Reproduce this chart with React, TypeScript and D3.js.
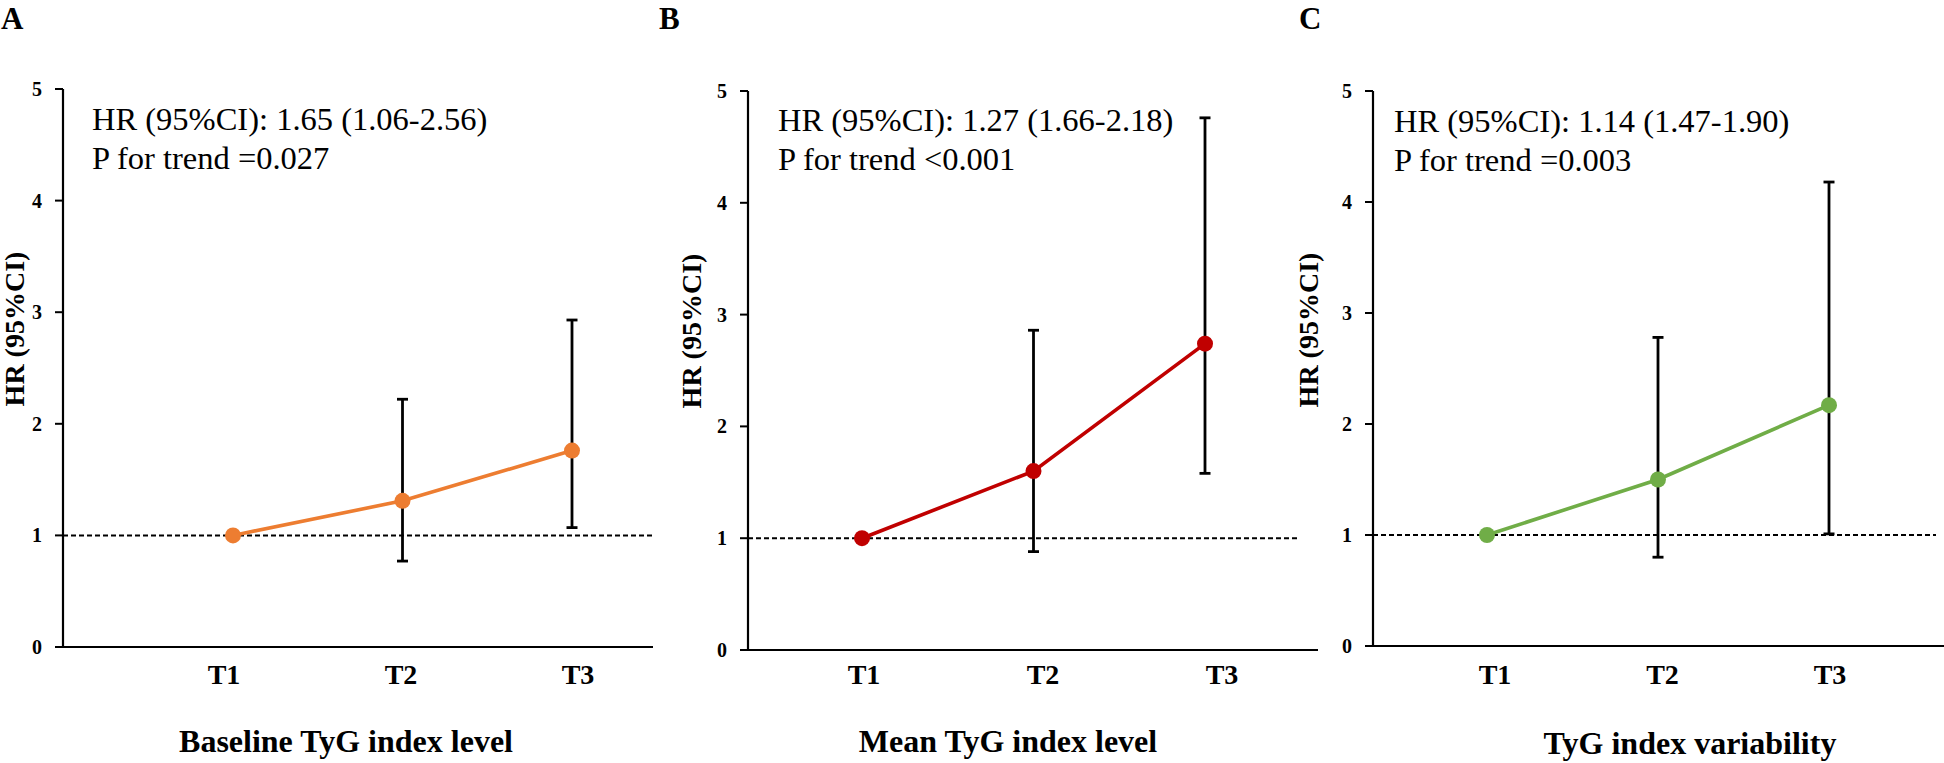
import React from "react";
import * as d3 from "d3";

// ---------- data ----------
const categories = ["T1", "T2", "T3"];
const yTicks = [0, 1, 2, 3, 4, 5];

const baselineHR = [1.0, 1.31, 1.76];
const baselineLower = [1.0, 0.77, 1.07];
const baselineUpper = [1.0, 2.22, 2.93];

const meanHR = [1.0, 1.6, 2.74];
const meanLower = [1.0, 0.88, 1.58];
const meanUpper = [1.0, 2.86, 4.76];

const variabilityHR = [1.0, 1.5, 2.17];
const variabilityLower = [1.0, 0.8, 1.01];
const variabilityUpper = [1.0, 2.78, 4.18];

const panelLetters = ["A", "B", "C"];
const xTitles = ["Baseline TyG index level", "Mean TyG index level", "TyG index variability"];
const hrTexts = [
  "HR (95%CI): 1.65 (1.06-2.56)",
  "HR (95%CI): 1.27 (1.66-2.18)",
  "HR (95%CI): 1.14 (1.47-1.90)",
];
const pTexts = ["P for trend =0.027", "P for trend <0.001", "P for trend =0.003"];
const yTitle = "HR (95%CI)";

const seriesHR = [baselineHR, meanHR, variabilityHR];
const seriesLower = [baselineLower, meanLower, variabilityLower];
const seriesUpper = [baselineUpper, meanUpper, variabilityUpper];

// ---------- layout ----------
const layouts = [
  { letterX: 1, axisX: 63, axisEnd: 653, dashEnd: 655, t1x: 233, t3x: 572, l1x: 224, l3x: 578, y0: 647, y5: 89, annX: 92, annY: 130, ylX: 14, ylY: 329, titleX: 346, titleY: 752, color: "#ED7D31" },
  { letterX: 659, axisX: 748, axisEnd: 1318, dashEnd: 1297, t1x: 862, t3x: 1205, l1x: 864, l3x: 1222, y0: 650, y5: 91, annX: 778, annY: 131, ylX: 691, ylY: 331, titleX: 1008, titleY: 752, color: "#C00000" },
  { letterX: 1299, axisX: 1373, axisEnd: 1944, dashEnd: 1936, t1x: 1487, t3x: 1829, l1x: 1495, l3x: 1830, y0: 646, y5: 91, annX: 1394, annY: 132, ylX: 1308, ylY: 330, titleX: 1690, titleY: 754, color: "#70AD47" },
];

const FONT = "'Liberation Serif', 'Times New Roman', serif";

function Panel({ i }: { i: number }) {
  const L = layouts[i];
  const x = d3.scalePoint<string>().domain(categories).range([L.t1x, L.t3x]);
  const xl = d3.scalePoint<string>().domain(categories).range([L.l1x, L.l3x]);
  const y = d3.scaleLinear().domain([0, 5]).range([L.y0, L.y5]);
  const hr = seriesHR[i];
  const lo = seriesLower[i];
  const up = seriesUpper[i];
  const pts: [number, number][] = categories.map((c, k) => [x(c) as number, y(hr[k])]);
  const line = d3.line()(pts) || "";
  return (
    <g>
      <text x={L.letterX} y={29} fontFamily={FONT} fontWeight="bold" fontSize={31}>
        {panelLetters[i]}
      </text>
      {/* y axis */}
      <line x1={L.axisX} x2={L.axisX} y1={y(5)} y2={y(0) + 1} stroke="#000" strokeWidth={2.2} />
      {yTicks.map((t) => (
        <g key={t}>
          <line x1={L.axisX - 8} x2={L.axisX} y1={y(t)} y2={y(t)} stroke="#000" strokeWidth={2} />
          <text x={L.axisX - 21} y={y(t)} dy="0.35em" textAnchor="end" fontFamily={FONT} fontWeight="bold" fontSize={20}>
            {t}
          </text>
        </g>
      ))}
      {/* x axis */}
      <line x1={L.axisX - 8} x2={L.axisEnd} y1={y(0)} y2={y(0)} stroke="#000" strokeWidth={2.2} />
      {categories.map((c) => (
        <text key={c} x={xl(c)} y={684} textAnchor="middle" fontFamily={FONT} fontWeight="bold" fontSize={28}>
          {c}
        </text>
      ))}
      {/* reference line */}
      <line x1={L.axisX} x2={L.dashEnd} y1={y(1)} y2={y(1)} stroke="#000" strokeWidth={2} strokeDasharray="5,3" />
      {/* error bars */}
      {categories.map((c, k) =>
        up[k] !== lo[k] ? (
          <g key={"e" + c}>
            <line x1={x(c)} x2={x(c)} y1={y(up[k])} y2={y(lo[k])} stroke="#000" strokeWidth={2.8} />
            <line x1={(x(c) as number) - 5.5} x2={(x(c) as number) + 5.5} y1={y(up[k])} y2={y(up[k])} stroke="#000" strokeWidth={2.8} />
            <line x1={(x(c) as number) - 5.5} x2={(x(c) as number) + 5.5} y1={y(lo[k])} y2={y(lo[k])} stroke="#000" strokeWidth={2.8} />
          </g>
        ) : null
      )}
      {/* line + markers */}
      <path d={line} fill="none" stroke={L.color} strokeWidth={3.6} />
      {pts.map((p, k) => (
        <circle key={"m" + k} cx={p[0]} cy={p[1]} r={8} fill={L.color} />
      ))}
      {/* annotation */}
      <text x={L.annX} y={L.annY} fontFamily={FONT} fontSize={32.5}>
        {hrTexts[i]}
      </text>
      <text x={L.annX} y={L.annY + 38.5} fontFamily={FONT} fontSize={32.5}>
        {pTexts[i]}
      </text>
      {/* y title */}
      <text
        transform={`translate(${L.ylX},${L.ylY}) rotate(-90)`}
        textAnchor="middle"
        dy="0.35em"
        fontFamily={FONT}
        fontWeight="bold"
        fontSize={28}
      >
        {yTitle}
      </text>
      {/* x title */}
      <text x={L.titleX} y={L.titleY} textAnchor="middle" fontFamily={FONT} fontWeight="bold" fontSize={32}>
        {xTitles[i]}
      </text>
    </g>
  );
}

export default function App() {
  return (
    <svg
      width={1944}
      height={763}
      viewBox="0 0 1944 763"
      style={{ position: "absolute", left: 0, top: 0, background: "#fff" }}
    >
      <rect width={1944} height={763} fill="#fff" />
      {[0, 1, 2].map((i) => (
        <Panel key={i} i={i} />
      ))}
    </svg>
  );
}
